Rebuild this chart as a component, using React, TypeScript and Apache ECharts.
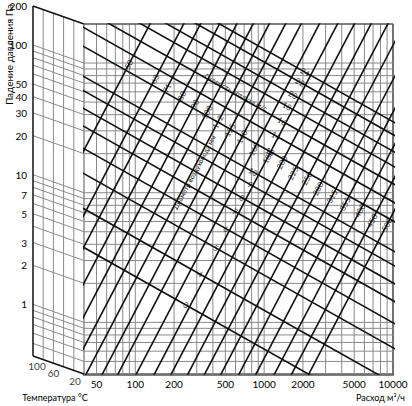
import React, { useEffect, useRef } from "react";
import * as echarts from "echarts";

// ---- data ----
const flowTicks = [50, 100, 200, 500, 1000, 2000, 5000, 10000];
const pressureTicks = [1, 2, 3, 5, 7, 10, 20, 30, 40, 50, 100, 200];
const flowGrid = [40, 50, 60, 70, 80, 90, 100, 200, 300, 400, 500, 600, 700, 800, 900, 1000, 2000, 3000, 4000, 5000, 6000, 7000, 8000, 9000, 10000];
const pressureGrid = [0.4, 0.5, 0.6, 0.7, 0.8, 0.9, 1, 2, 3, 4, 5, 6, 7, 8, 9, 10, 20, 30, 40, 50, 60, 70, 80, 90, 100, 200];
const tempGrid = [84, 68, 52, 36];
const tempLabels = [100, 60, 20];
const tempShift = 0.139; // decades of pressure correction at 100 °C

const diameters = [50, 63, 71, 80, 90, 100, 112, 125, 140, 160, 180, 200, 225, 250, 280, 315, 355, 400, 450, 500];
// flow (m3/h) at which each diameter line crosses 1 Pa
const diameterQ1 = [8.0, 14.6, 19.7, 27.7, 37.7, 50.5, 67.3, 90, 119, 165, 228, 308, 415, 560, 750, 1035, 1400, 1950, 2650, 3600];
const diameterSlope = 1.9;
// flow where each diameter label sits
const diameterLabelQ = [89, 142, 176, 230, 290, 360, 438, 543, 673, 833, 1070, 1374, 1673, 2148, 2615, 3358, 4236, 5537, 6861, 8968];

const velocities = [3, 4, 5, 6, 7, 8, 9, 10, 12, 14, 16, 18, 20, 22, 24];
// pressure drop (Pa) at 100 m3/h for each velocity line
const velocityP100 = [2.26, 4.5, 8.4, 13.1, 19.4, 26.6, 36.5, 47, 80, 112, 155, 212, 275, 370, 465];
const velocitySlope = -0.56;
const velocityLabelQ = [247, 318, 423, 506, 594, 673, 776, 819, 1110, 1235, 1375, 1503, 1673, 1896, 2073];

const FONT = "Lato, 'Open Sans', sans-serif";
const L = Math.log10;
const P_MIN = 0.4, P_MAX = 200, Q_MIN = 40, Q_MAX = 10000, T_HOT = 100, T_COLD = 20;

const sh = (t: number) => (tempShift * (t - T_COLD)) / (T_HOT - T_COLD);

function seg(data: number[][], color: string, width: number, gi: number, z: number, clip = false) {
  return {
    type: "line",
    xAxisIndex: gi,
    yAxisIndex: gi,
    data,
    symbol: "none",
    silent: true,
    clip,
    z,
    lineStyle: { color, width },
  };
}

const labelBase = {
  show: true,
  color: "#000",
  textBorderWidth: 0,
  textBorderColor: "transparent",
  fontFamily: FONT,
  position: ["50%", "50%"],
  align: "center",
  verticalAlign: "middle",
};

export default function App() {
  const ref = useRef<HTMLDivElement>(null);
  useEffect(() => {
    if (!ref.current) return;
    const chart = echarts.init(ref.current, undefined, { renderer: "svg" });
    const series: any[] = [];
    const GRID = "#8a8a8a";
    const DARK = "#111";

    flowGrid.forEach((q) => {
      const edge = q === Q_MAX;
      series.push(seg([[L(q), L(P_MIN)], [L(q), L(P_MAX)]], edge ? "#444" : q === Q_MIN ? "#555" : GRID, edge ? 1.5 : 1, 0, 1));
    });
    pressureGrid.forEach((p) => {
      const top = p === P_MAX;
      series.push(seg([[L(Q_MIN), L(p)], [L(Q_MAX), L(p)]], top ? "#555" : GRID, top ? 1.5 : 1, 0, 1));
    });
    pressureGrid.forEach((p) => {
      const edge = p === P_MAX || p === P_MIN;
      series.push(seg([[T_HOT, L(p) + tempShift], [T_COLD, L(p)]], edge ? DARK : GRID, edge ? 1.4 : 1, 1, edge ? 3 : 1));
    });
    tempGrid.forEach((t) => {
      series.push(seg([[t, L(P_MIN) + sh(t)], [t, L(P_MAX) + sh(t)]], GRID, 1, 1, 1));
    });
    series.push(seg([[T_HOT, L(P_MIN) + tempShift], [T_HOT, L(P_MAX) + tempShift]], DARK, 1.5, 1, 3));

    diameters.forEach((d, i) => {
      const lq1 = L(diameterQ1[i]);
      series.push(seg([[1, diameterSlope * (1 - lq1)], [5, diameterSlope * (5 - lq1)]], DARK, 1.6, 0, 5, true));
    });
    velocities.forEach((v, i) => {
      const lp = L(velocityP100[i]);
      series.push(seg([[1, lp + velocitySlope * (1 - 2)], [5, lp + velocitySlope * (5 - 2)]], DARK, 1.6, 0, 5, true));
    });

    series.push({
      type: "scatter",
      xAxisIndex: 0,
      yAxisIndex: 0,
      symbol: "circle",
      symbolSize: 1,
      silent: true,
      z: 8,
      itemStyle: { color: "rgba(0,0,0,0)" },
      data: diameters.map((d, i) => {
        const lq = L(diameterLabelQ[i]);
        return { value: [lq, diameterSlope * (lq - L(diameterQ1[i]))], name: String(d) };
      }),
      label: { ...labelBase, rotate: 62, formatter: (p: any) => p.name, fontSize: 8 },
    });
    series.push({
      type: "scatter",
      xAxisIndex: 0,
      yAxisIndex: 0,
      symbol: "circle",
      symbolSize: 1,
      silent: true,
      z: 8,
      itemStyle: { color: "rgba(0,0,0,0)" },
      data: velocities.map((v, i) => {
        const lq = L(velocityLabelQ[i]);
        return { value: [lq, L(velocityP100[i]) + velocitySlope * (lq - 2)], name: String(v) };
      }),
      label: { ...labelBase, rotate: -29, formatter: (p: any) => p.name, fontSize: 8 },
    });
    const tOff: Record<number, number[]> = { 100: [4, 10], 60: [-5, 8], 20: [-9, 7] };
    series.push({
      type: "scatter",
      xAxisIndex: 1,
      yAxisIndex: 1,
      symbol: "circle",
      symbolSize: 1,
      silent: true,
      itemStyle: { color: "rgba(0,0,0,0)" },
      data: tempLabels.map((t) => ({
        value: [t, L(P_MIN) + sh(t)],
        name: String(t),
        label: { offset: tOff[t] },
      })),
      label: { ...labelBase, formatter: (p: any) => p.name, fontSize: 10 },
    });

    chart.setOption({
      animation: false,
      grid: [
        { left: 84, top: 24, width: 309, height: 350 },
        { left: 33, top: 6, width: 51, height: 368 },
      ],
      xAxis: [
        {
          gridIndex: 0,
          type: "value",
          min: L(Q_MIN),
          max: L(Q_MAX),
          axisLine: { show: true, onZero: false, lineStyle: { color: "#555", width: 2.5 } },
          axisTick: { show: false },
          splitLine: { show: false },
          axisLabel: {
            customValues: flowTicks.map(L),
            formatter: (v: number) => String(Math.round(Math.pow(10, v))),
            fontSize: 10,
            color: "#000",
            margin: 5,
            fontFamily: FONT,
            showMinLabel: true,
            showMaxLabel: true,
          },
        },
        { gridIndex: 1, type: "value", min: T_COLD, max: T_HOT, inverse: true, show: false },
      ],
      yAxis: [
        { gridIndex: 0, type: "value", min: L(P_MIN), max: L(P_MAX), show: false },
        {
          gridIndex: 1,
          type: "value",
          min: L(P_MIN),
          max: L(P_MAX) + tempShift,
          axisLine: { show: false },
          axisTick: { show: false },
          splitLine: { show: false },
          axisLabel: {
            customValues: pressureTicks.map((p) => L(p) + tempShift),
            formatter: (v: number) => String(Math.round(Math.pow(10, v - tempShift))),
            fontSize: 10,
            color: "#000",
            margin: 6,
            fontFamily: FONT,
            showMinLabel: true,
            showMaxLabel: true,
          },
        },
      ],
      graphic: [
        { type: "text", x: 9, y: 4, rotation: Math.PI / 2, style: { text: "Падение давления Па", font: `10px ${FONT}`, fill: "#000", textAlign: "right", textVerticalAlign: "middle" } },
        { type: "text", x: 55, y: 397, style: { text: "Температура °C", font: `9px ${FONT}`, fill: "#000", textAlign: "center", textVerticalAlign: "middle" } },
        { type: "text", x: 405, y: 397, style: { text: "Расход м³/ч", font: `9px ${FONT}`, fill: "#000", textAlign: "right", textVerticalAlign: "middle" } },
        { type: "text", x: 236, y: 92, rotation: -0.5, style: { text: "Скорость воздуха м/с", font: `7px ${FONT}`, fill: "#000", textAlign: "center", textVerticalAlign: "middle" } },
        { type: "text", x: 194, y: 172, rotation: 1.08, style: { text: "Диаметр воздуховода мм", font: `7px ${FONT}`, fill: "#000", textAlign: "center", textVerticalAlign: "middle" } },
      ],
      series,
    });
    return () => chart.dispose();
  }, []);
  return <div ref={ref} style={{ width: 412, height: 406, position: "absolute", left: 0, top: 0 }} />;
}
